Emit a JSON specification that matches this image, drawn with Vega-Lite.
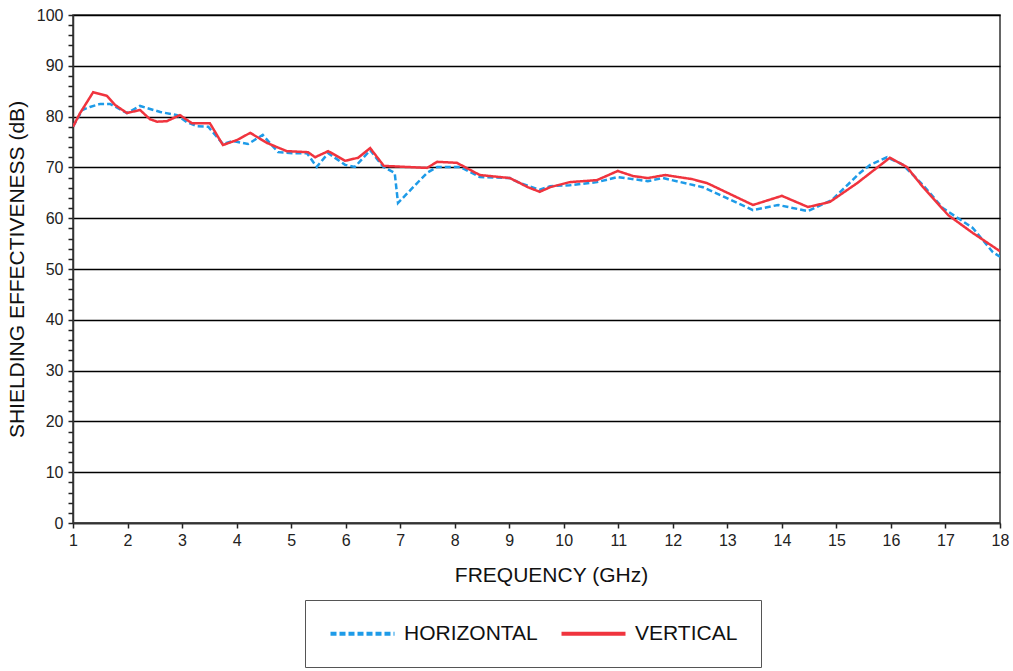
{
  "$schema": "https://vega.github.io/schema/vega-lite/v6.json",
  "width": 927,
  "height": 508,
  "autosize": {"type": "none"},
  "padding": {"left": 73, "top": 15, "right": 13, "bottom": 148},
  "config": {
    "font": "Liberation Sans",
    "view": {"stroke": "#333333", "strokeWidth": 1.5}
  },
  "data": {
    "values": [
      {"f": 1.0, "se": 78.0, "s": "HORIZONTAL"},
      {"f": 1.17, "se": 81.3, "s": "HORIZONTAL"},
      {"f": 1.31, "se": 81.9, "s": "HORIZONTAL"},
      {"f": 1.5, "se": 82.5, "s": "HORIZONTAL"},
      {"f": 1.68, "se": 82.5, "s": "HORIZONTAL"},
      {"f": 1.99, "se": 80.7, "s": "HORIZONTAL"},
      {"f": 2.23, "se": 82.1, "s": "HORIZONTAL"},
      {"f": 2.6, "se": 80.9, "s": "HORIZONTAL"},
      {"f": 2.91, "se": 80.3, "s": "HORIZONTAL"},
      {"f": 3.09, "se": 78.9, "s": "HORIZONTAL"},
      {"f": 3.27, "se": 78.1, "s": "HORIZONTAL"},
      {"f": 3.48, "se": 78.0, "s": "HORIZONTAL"},
      {"f": 3.75, "se": 74.6, "s": "HORIZONTAL"},
      {"f": 3.93, "se": 75.2, "s": "HORIZONTAL"},
      {"f": 4.21, "se": 74.6, "s": "HORIZONTAL"},
      {"f": 4.48, "se": 76.4, "s": "HORIZONTAL"},
      {"f": 4.76, "se": 73.0, "s": "HORIZONTAL"},
      {"f": 5.03, "se": 72.8, "s": "HORIZONTAL"},
      {"f": 5.29, "se": 72.8, "s": "HORIZONTAL"},
      {"f": 5.47, "se": 70.1, "s": "HORIZONTAL"},
      {"f": 5.68, "se": 72.8, "s": "HORIZONTAL"},
      {"f": 5.99, "se": 70.5, "s": "HORIZONTAL"},
      {"f": 6.17, "se": 70.1, "s": "HORIZONTAL"},
      {"f": 6.45, "se": 73.4, "s": "HORIZONTAL"},
      {"f": 6.69, "se": 70.1, "s": "HORIZONTAL"},
      {"f": 6.9, "se": 68.9, "s": "HORIZONTAL"},
      {"f": 6.96, "se": 63.0, "s": "HORIZONTAL"},
      {"f": 7.49, "se": 68.9, "s": "HORIZONTAL"},
      {"f": 7.68, "se": 70.1, "s": "HORIZONTAL"},
      {"f": 8.1, "se": 70.1, "s": "HORIZONTAL"},
      {"f": 8.46, "se": 68.1, "s": "HORIZONTAL"},
      {"f": 9.01, "se": 67.9, "s": "HORIZONTAL"},
      {"f": 9.2, "se": 66.9, "s": "HORIZONTAL"},
      {"f": 9.56, "se": 65.6, "s": "HORIZONTAL"},
      {"f": 9.75, "se": 66.3, "s": "HORIZONTAL"},
      {"f": 10.11, "se": 66.5, "s": "HORIZONTAL"},
      {"f": 10.61, "se": 67.1, "s": "HORIZONTAL"},
      {"f": 10.99, "se": 68.1, "s": "HORIZONTAL"},
      {"f": 11.54, "se": 67.3, "s": "HORIZONTAL"},
      {"f": 11.82, "se": 67.9, "s": "HORIZONTAL"},
      {"f": 12.55, "se": 66.1, "s": "HORIZONTAL"},
      {"f": 13.47, "se": 61.6, "s": "HORIZONTAL"},
      {"f": 13.93, "se": 62.6, "s": "HORIZONTAL"},
      {"f": 14.48, "se": 61.4, "s": "HORIZONTAL"},
      {"f": 14.92, "se": 63.6, "s": "HORIZONTAL"},
      {"f": 15.43, "se": 68.9, "s": "HORIZONTAL"},
      {"f": 15.62, "se": 70.5, "s": "HORIZONTAL"},
      {"f": 15.93, "se": 72.0, "s": "HORIZONTAL"},
      {"f": 16.22, "se": 70.5, "s": "HORIZONTAL"},
      {"f": 16.59, "se": 66.5, "s": "HORIZONTAL"},
      {"f": 16.95, "se": 62.0, "s": "HORIZONTAL"},
      {"f": 17.5, "se": 58.1, "s": "HORIZONTAL"},
      {"f": 17.87, "se": 53.3, "s": "HORIZONTAL"},
      {"f": 18.0, "se": 52.4, "s": "HORIZONTAL"},
      {"f": 1.0, "se": 78.0, "s": "VERTICAL"},
      {"f": 1.13, "se": 80.7, "s": "VERTICAL"},
      {"f": 1.37, "se": 84.8, "s": "VERTICAL"},
      {"f": 1.62, "se": 84.1, "s": "VERTICAL"},
      {"f": 1.77, "se": 82.3, "s": "VERTICAL"},
      {"f": 1.99, "se": 80.7, "s": "VERTICAL"},
      {"f": 2.23, "se": 81.3, "s": "VERTICAL"},
      {"f": 2.41, "se": 79.5, "s": "VERTICAL"},
      {"f": 2.54, "se": 79.0, "s": "VERTICAL"},
      {"f": 2.72, "se": 79.1, "s": "VERTICAL"},
      {"f": 2.96, "se": 80.3, "s": "VERTICAL"},
      {"f": 3.18, "se": 78.7, "s": "VERTICAL"},
      {"f": 3.51, "se": 78.7, "s": "VERTICAL"},
      {"f": 3.75, "se": 74.4, "s": "VERTICAL"},
      {"f": 4.01, "se": 75.4, "s": "VERTICAL"},
      {"f": 4.25, "se": 76.8, "s": "VERTICAL"},
      {"f": 4.56, "se": 74.8, "s": "VERTICAL"},
      {"f": 4.92, "se": 73.2, "s": "VERTICAL"},
      {"f": 5.31, "se": 73.0, "s": "VERTICAL"},
      {"f": 5.44, "se": 72.0, "s": "VERTICAL"},
      {"f": 5.68, "se": 73.2, "s": "VERTICAL"},
      {"f": 5.99, "se": 71.3, "s": "VERTICAL"},
      {"f": 6.23, "se": 71.9, "s": "VERTICAL"},
      {"f": 6.45, "se": 73.8, "s": "VERTICAL"},
      {"f": 6.7, "se": 70.3, "s": "VERTICAL"},
      {"f": 7.49, "se": 69.9, "s": "VERTICAL"},
      {"f": 7.68, "se": 71.1, "s": "VERTICAL"},
      {"f": 8.04, "se": 70.9, "s": "VERTICAL"},
      {"f": 8.46, "se": 68.5, "s": "VERTICAL"},
      {"f": 9.01, "se": 67.9, "s": "VERTICAL"},
      {"f": 9.2, "se": 66.9, "s": "VERTICAL"},
      {"f": 9.34, "se": 66.1, "s": "VERTICAL"},
      {"f": 9.56, "se": 65.2, "s": "VERTICAL"},
      {"f": 9.75, "se": 66.1, "s": "VERTICAL"},
      {"f": 10.11, "se": 67.1, "s": "VERTICAL"},
      {"f": 10.61, "se": 67.5, "s": "VERTICAL"},
      {"f": 10.99, "se": 69.3, "s": "VERTICAL"},
      {"f": 11.27, "se": 68.3, "s": "VERTICAL"},
      {"f": 11.54, "se": 67.9, "s": "VERTICAL"},
      {"f": 11.86, "se": 68.5, "s": "VERTICAL"},
      {"f": 12.35, "se": 67.7, "s": "VERTICAL"},
      {"f": 12.63, "se": 66.9, "s": "VERTICAL"},
      {"f": 13.47, "se": 62.6, "s": "VERTICAL"},
      {"f": 14.0, "se": 64.4, "s": "VERTICAL"},
      {"f": 14.48, "se": 62.2, "s": "VERTICAL"},
      {"f": 14.88, "se": 63.2, "s": "VERTICAL"},
      {"f": 15.38, "se": 66.9, "s": "VERTICAL"},
      {"f": 15.98, "se": 71.9, "s": "VERTICAL"},
      {"f": 16.29, "se": 70.1, "s": "VERTICAL"},
      {"f": 16.59, "se": 66.1, "s": "VERTICAL"},
      {"f": 17.05, "se": 60.6, "s": "VERTICAL"},
      {"f": 17.5, "se": 57.1, "s": "VERTICAL"},
      {"f": 18.0, "se": 53.5, "s": "VERTICAL"}
    ]
  },
  "mark": {"type": "line", "strokeWidth": 2.5, "clip": true},
  "encoding": {
    "x": {
      "field": "f",
      "type": "quantitative",
      "scale": {"domain": [1, 18], "nice": false, "zero": false},
      "axis": {
        "title": "FREQUENCY (GHz)",
        "values": [1,2,3,4,5,6,7,8,9,10,11,12,13,14,15,16,17,18],
        "grid": false,
        "labelFlush": false,
        "domainColor": "#333333",
        "domainWidth": 1.5,
        "tickColor": "#222222",
        "tickWidth": 1.5,
        "tickSize": 5,
        "labelFontSize": 16,
        "labelColor": "#222222",
        "labelPadding": 4,
        "titleFontSize": 21,
        "titleFontWeight": "normal",
        "titleColor": "#111111",
        "titlePadding": 16,
        "titleX": 478
      }
    },
    "y": {
      "field": "se",
      "type": "quantitative",
      "scale": {"domain": [0, 100], "nice": false},
      "axis": {
        "title": "SHIELDING EFFECTIVENESS (dB)",
        "values": [0,2,4,6,8,10,12,14,16,18,20,22,24,26,28,30,32,34,36,38,40,42,44,46,48,50,52,54,56,58,60,62,64,66,68,70,72,74,76,78,80,82,84,86,88,90,92,94,96,98,100],
        "labelExpr": "datum.value % 10 === 0 ? datum.label : ''",
        "grid": true,
        "gridColor": "#000000",
        "gridWidth": 1.5,
        "gridOpacity": {"condition": {"test": "datum.value % 10 === 0", "value": 1}, "value": 0},
        "domainColor": "#333333",
        "domainWidth": 1.5,
        "tickColor": "#222222",
        "tickWidth": 1.5,
        "tickSize": 5,
        "labelFontSize": 16,
        "labelColor": "#222222",
        "labelPadding": 5,
        "titleFontSize": 21,
        "titleFontWeight": "normal",
        "titleColor": "#111111",
        "titlePadding": 9
      }
    },
    "color": {
      "field": "s",
      "type": "nominal",
      "scale": {"domain": ["HORIZONTAL", "VERTICAL"], "range": ["#1e9be8", "#f0343e"]},
      "legend": {
        "title": null,
        "orient": "none",
        "direction": "horizontal",
        "legendX": 232,
        "legendY": 585,
        "padding": 23,
        "strokeColor": "#555555",
        "symbolType": "M-4,0H4",
        "symbolSize": 256,
        "symbolStrokeWidth": 4,
        "symbolOffset": 24,
        "labelOffset": 31,
        "labelFontSize": 21,
        "labelColor": "#111111",
        "columnPadding": 15
      }
    },
    "strokeDash": {
      "field": "s",
      "type": "nominal",
      "scale": {"domain": ["HORIZONTAL", "VERTICAL"], "range": [[6, 3], [1, 0]]},
      "legend": {
        "title": null,
        "orient": "none",
        "direction": "horizontal",
        "legendX": 232,
        "legendY": 585,
        "padding": 23,
        "strokeColor": "#555555",
        "symbolType": "M-4,0H4",
        "symbolSize": 256,
        "symbolStrokeWidth": 4,
        "symbolOffset": 24,
        "labelOffset": 31,
        "labelFontSize": 21,
        "labelColor": "#111111",
        "columnPadding": 15
      }
    }
  }
}
